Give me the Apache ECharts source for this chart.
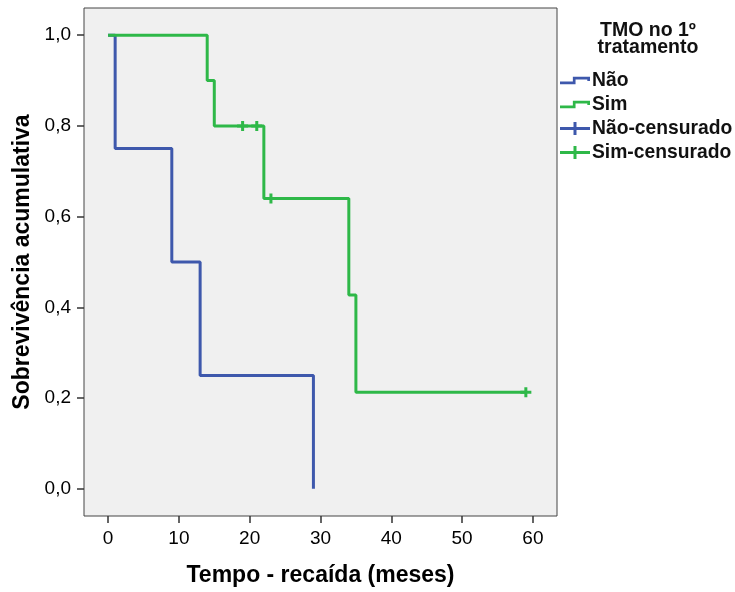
<!DOCTYPE html>
<html><head><meta charset="utf-8">
<script src="https://cdn.jsdelivr.net/npm/echarts@6/dist/echarts.min.js"></script>
<style>html,body{margin:0;padding:0;background:#fff}#c{width:735px;height:592px}</style>
</head><body><div id="c"></div>
<script>
// Kaplan-Meier step points [time, survival]
const naoCurve = [[0,1.0],[1,0.75],[9,0.5],[13,0.25],[29,0.0]];
const simCurve = [[0,1.0],[14,0.9],[15,0.8],[22,0.64],[34,0.427],[35,0.213],[59,0.213]];
const naoCensored = [];
const simCensored = [[19,0.8],[21,0.8],[23,0.64],[59,0.213]];
const xTicks = [0,10,20,30,40,50,60];
const yTicks = [0,0.2,0.4,0.6,0.8,1.0];
const seriesNames = ['Não','Sim','Não-censurado','Sim-censurado'];
const legendTitle = ['TMO no 1º','tratamento'];
const blue = '#3e58ac', green = '#2eb848';

const stepIcon = 'path://M0,4.5 H12 V0 H28 V4 H25.5 V2.5 H14.5 V7 H0 Z';
const plusIcon = 'path://M13.5,0 H16.5 V13 H13.5 Z M0,5 H30 V8 H0 Z';
const censorSym = 'path://M4,0 H7 V10 H4 Z M0,3.5 H11 V6.5 H0 Z';

const chart = echarts.init(document.getElementById('c'), null, {renderer:'canvas'});
const font = '"Liberation Sans", Arial, sans-serif';
const titleStyle = {fontSize:19.5, fontWeight:'bold', color:'#111', fontFamily:font};
chart.setOption({
  animation:false,
  textStyle:{fontFamily:font},
  title:[
    {text:legendTitle[0], left:648, top:20.5, textAlign:'center', padding:0, textStyle:titleStyle},
    {text:legendTitle[1], left:648, top:37.5, textAlign:'center', padding:0, textStyle:titleStyle}
  ],
  legend:{orient:'vertical', left:555, top:66, itemWidth:30, itemHeight:14, itemGap:5,
    symbolKeepAspect:true,
    textStyle:{fontSize:19.3, fontWeight:'bold', color:'#111', fontFamily:font, padding:[0,0,0,-3]},
    data:[
      {name:seriesNames[0], icon:stepIcon, itemStyle:{color:blue, opacity:1}},
      {name:seriesNames[1], icon:stepIcon, itemStyle:{color:green, opacity:1}},
      {name:seriesNames[2], icon:plusIcon, itemStyle:{color:blue, opacity:1}},
      {name:seriesNames[3], icon:plusIcon, itemStyle:{color:green, opacity:1}}
    ]},
  grid:{left:84, top:8, width:473, height:510, show:true, backgroundColor:'#f0f0f0',
    borderColor:'#444', borderWidth:1},
  xAxis:{type:'value', min:-3.4, max:63.4,
    name:'Tempo - recaída (meses)', nameLocation:'middle', nameGap:48,
    nameTextStyle:{fontSize:23, fontWeight:'bold', color:'#000', fontFamily:font},
    axisLine:{show:false, onZero:false}, splitLine:{show:false},
    axisTick:{show:true, length:7, customValues:xTicks, lineStyle:{color:'#333', width:1.5}},
    axisLabel:{customValues:xTicks, margin:13, fontSize:19, color:'#000', fontFamily:font}},
  yAxis:{type:'value', min:-0.06, max:1.06,
    name:'Sobrevivência acumulativa', nameLocation:'middle', nameGap:50,
    nameTextStyle:{fontSize:23, fontWeight:'bold', color:'#000', fontFamily:font},
    axisLine:{show:false, onZero:false}, splitLine:{show:false},
    axisTick:{show:true, length:7, customValues:yTicks, lineStyle:{color:'#333', width:1.5}},
    axisLabel:{customValues:yTicks, margin:13, fontSize:19, color:'#000', fontFamily:font,
      formatter:v=>v.toFixed(1).replace('.',',')}},
  series:[
    {name:seriesNames[0], type:'line', step:'end', data:naoCurve, showSymbol:false,
      lineStyle:{color:blue, width:3}, itemStyle:{color:blue}, z:2},
    {name:seriesNames[1], type:'line', step:'end', data:simCurve, showSymbol:false,
      lineStyle:{color:green, width:3}, itemStyle:{color:green}, z:3},
    {name:seriesNames[2], type:'scatter', data:naoCensored, symbol:censorSym, symbolSize:[11,10],
      itemStyle:{color:blue, opacity:1}, z:4},
    {name:seriesNames[3], type:'scatter', data:simCensored, symbol:censorSym, symbolSize:[11,10],
      itemStyle:{color:green, opacity:1}, z:4}
  ]
});
</script></body></html>
